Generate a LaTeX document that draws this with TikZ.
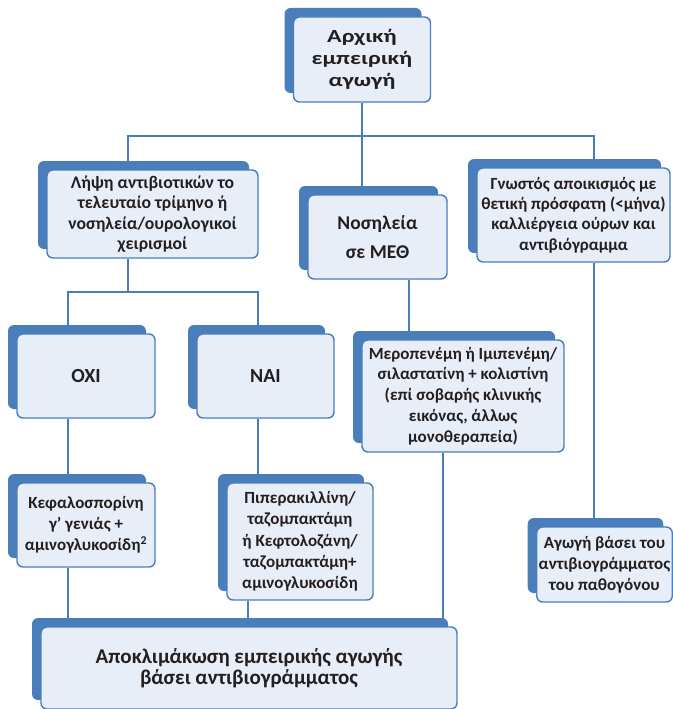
\documentclass[tikz,border=0pt]{standalone}
\usepackage{fontspec}
\setmainfont{Carlito}
\newfontfamily\widefont[FakeStretch=1.3]{Carlito}
\usetikzlibrary{shadows,backgrounds}
\definecolor{boxblue}{HTML}{4A7EBB}
\definecolor{boxfill}{HTML}{E8EEF8}
\definecolor{txtgray}{HTML}{231F20}
\tikzset{
  stepbox/.style={draw=boxblue,line width=1.4pt,fill=boxfill,rounded corners=6pt,
    align=center,text=txtgray,inner sep=2pt,
    font=\bfseries\fontsize{17}{20.8}\selectfont,
    drop shadow={shadow xshift=-9pt,shadow yshift=9pt,fill=boxblue,opacity=1}},
  link/.style={draw=boxblue,line width=1.8pt}
}

\begin{document}
\begin{tikzpicture}[x=1pt,y=1pt]
  \useasboundingbox (0,0) rectangle (672,-709);
  % boxes
  \node[stepbox,minimum width=137pt,minimum height=85pt,
    font=\widefont\bfseries\fontsize{18.5}{21.7}\selectfont] (arxiki) at (362,-59.5) {Αρχική\\εμπειρική\\αγωγή};
  \node[stepbox,minimum width=211pt,minimum height=88pt,
    font=\bfseries\fontsize{17.7}{20.3}\selectfont] (lipsi) at (152.5,-214) {Λήψη αντιβιοτικών το\\τελευταίο τρίμηνο ή\\νοσηλεία/ουρολογικοί\\χειρισμοί};
  \node[stepbox,minimum width=139pt,minimum height=84pt,
    font=\bfseries\fontsize{19.5}{29}\selectfont] (nosil) at (377.5,-237) {Νοσηλεία\\σε ΜΕΘ};
  \node[stepbox,minimum width=193pt,minimum height=94pt,
    font=\bfseries\fontsize{17}{20.2}\selectfont] (gnostos) at (573.5,-215) {Γνωστός αποικισμός με\\θετική πρόσφατη (<μήνα)\\καλλιέργεια ούρων και\\αντιβιόγραμμα};
  \node[stepbox,minimum width=138pt,minimum height=84pt,
    font=\bfseries\fontsize{20}{24}\selectfont] (oxi) at (86,-376) {ΟΧΙ};
  \node[stepbox,minimum width=137pt,minimum height=84pt,
    font=\bfseries\fontsize{20}{24}\selectfont] (nai) at (265.5,-376) {ΝΑΙ};
  \node[stepbox,minimum width=202pt,minimum height=112pt] (mero) at (463,-396) {Μεροπενέμη ή Ιμιπενέμη/\\σιλαστατίνη + κολιστίνη\\(επί σοβαρής κλινικής\\εικόνας, άλλως\\μονοθεραπεία)};
  \node[stepbox,minimum width=138pt,minimum height=84pt] (kefalo) at (86,-525) {Κεφαλοσπορίνη\\γ’ γενιάς +\\αμινογλυκοσίδη\textsuperscript{2}};
  \node[stepbox,minimum width=146pt,minimum height=117pt,
    font=\bfseries\fontsize{17}{21.3}\selectfont] (piper) at (300,-541.5) {Πιπερακιλλίνη/\\ταζομπακτάμη\\ή Κεφτολοζάνη/\\ταζομπακτάμη+\\αμινογλυκοσίδη};
  \node[stepbox,minimum width=133pt,minimum height=75pt] (agogi) at (604.5,-564.5) {Αγωγή βάσει του\\αντιβιογράμματος\\του παθογόνου};
  \node[stepbox,minimum width=416pt,minimum height=82pt,
    font=\bfseries\fontsize{21}{21}\selectfont] (apokl) at (249,-668) {Αποκλιμάκωση εμπειρικής αγωγής\\βάσει αντιβιογράμματος};
  % connectors
  \begin{scope}[on background layer]
    \coordinate (busL) at (128,-136); \coordinate (busR) at (594,-136);
    \coordinate (forkL) at (68,-292); \coordinate (forkR) at (258,-292);
    \coordinate (dropP) at (248,0); \coordinate (dropN) at (409,0); \coordinate (dropM) at (443,0);
    \draw[link] (arxiki.south) -- (arxiki.south |- busL);
    \draw[link] (lipsi.north -| busL) -- (busL) -- (busR) -- (gnostos.north -| busR);
    \draw[link] (arxiki.south |- busL) -- (nosil.north -| arxiki.south);
    \draw[link] (lipsi.south -| busL) -- (busL |- forkL);
    \draw[link] (oxi.north -| forkL) -- (forkL) -- (forkR) -- (nai.north -| forkR);
    \draw[link] (oxi.south -| forkL) -- (kefalo.north -| forkL);
    \draw[link] (kefalo.south -| forkL) -- (apokl.north -| forkL);
    \draw[link] (nai.south -| forkR) -- (piper.north -| forkR);
    \draw[link] (piper.south -| dropP) -- (apokl.north -| dropP);
    \draw[link] (nosil.south -| dropN) -- (mero.north -| dropN);
    \draw[link] (mero.south -| dropM) -- (apokl.north -| dropM);
    \draw[link] (gnostos.south -| busR) -- (agogi.north -| busR);
  \end{scope}
\end{tikzpicture}
\end{document}
